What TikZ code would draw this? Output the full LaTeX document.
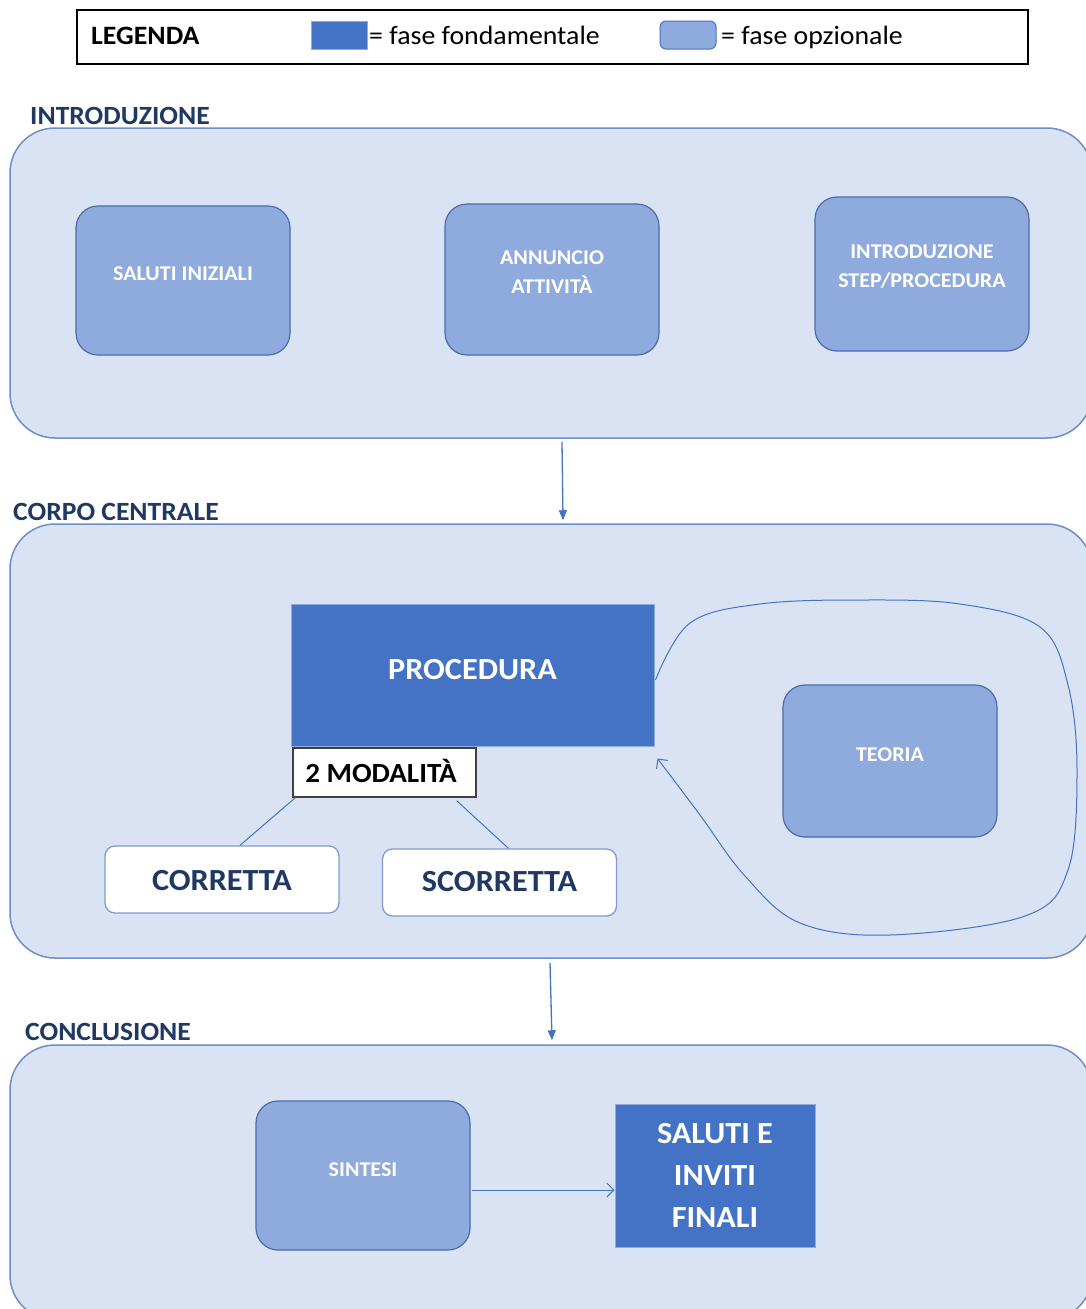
\documentclass[tikz,border=0pt]{standalone}
\usepackage{fontspec}
\setmainfont{Carlito}[FakeStretch=1.05]
\usetikzlibrary{arrows.meta,calc}
\definecolor{contfill}{HTML}{DAE3F3}
\definecolor{contdraw}{HTML}{6F8DC6}
\definecolor{optfill}{HTML}{8FAADC}
\definecolor{optdraw}{HTML}{4C6CAB}
\definecolor{fundfill}{HTML}{4472C4}
\definecolor{titlecol}{HTML}{1F3864}
\definecolor{linecol}{HTML}{4472C4}
\definecolor{whitedraw}{HTML}{7F9BD0}
\newcommand\fsz[1]{\fontsize{#1}{#1}\selectfont}
\begin{document}
\begin{tikzpicture}[x=1pt,y=-1pt,
  container/.style={draw=contdraw, fill=contfill, line width=1.5pt, rounded corners=45pt, inner sep=0pt},
  optbox/.style={draw=optdraw, fill=optfill, line width=1.2pt, rounded corners=22pt, inner sep=0pt, minimum width=214pt},
  fundbox/.style={draw=optfill, fill=fundfill, line width=1pt, inner sep=0pt},
  whitebox/.style={draw=whitedraw, fill=white, line width=1.3pt, rounded corners=10pt, inner sep=0pt, minimum width=234pt, minimum height=67pt},
  sectitle/.style={anchor=base west, text=titlecol, font=\fsz{26.3}\bfseries, inner sep=0pt},
  opttext/.style={anchor=base, text=white, font=\fsz{21}\bfseries, inner sep=0pt},
  fundtext/.style={anchor=base, text=white, font=\fsz{30.7}\bfseries, inner sep=0pt},
  wtext/.style={anchor=base, text=titlecol, font=\fsz{30.7}\bfseries, inner sep=0pt},
  legtext/.style={anchor=base west, font=\fsz{26.5}, inner sep=0pt},
  conn/.style={draw=linecol, line width=1.3pt},
]
\clip (0,0) rectangle (1086,1309);
\fill[white] (0,0) rectangle (1086,1309);

% Legend
\node[draw=black, line width=1.3pt, minimum width=951pt, minimum height=54pt, inner sep=0pt] (legend) at (552.5,37) {};
\node[legtext, font=\fsz{26.5}\bfseries] (legT) at (91,44) {LEGENDA};
\node[fill=fundfill, draw=optfill, line width=0.6pt, minimum width=56pt, minimum height=28pt, inner sep=0pt] (legF) at (339,35) {};
\node[legtext] (legFT) at (369,44) {= fase fondamentale};
\node[fill=optfill, draw=linecol, line width=1pt, rounded corners=6pt, minimum width=56pt, minimum height=28pt, inner sep=0pt] (legO) at (688,35) {};
\node[legtext] (legOT) at (721,44) {= fase opzionale};

% Introduzione
\node[sectitle] (tIntro) at (30,124) {INTRODUZIONE};
\node[container, minimum width=1082pt, minimum height=310pt] (intro) at (551,283) {};
\node[optbox, minimum height=149pt] (saluti) at (183,280.5) {};
\node[opttext] (salutiT) at (183,280) {SALUTI INIZIALI};
\node[optbox, minimum height=151pt] (annuncio) at (552,279.5) {};
\node[opttext] (annT1) at (552,264) {ANNUNCIO};
\node[opttext] (annT2) at (552,293) {ATTIVITÀ};
\node[optbox, minimum height=154pt] (introstep) at (922,274) {};
\node[opttext] (isT1) at (922,258) {INTRODUZIONE};
\node[opttext] (isT2) at (922,287) {STEP/PROCEDURA};

% Corpo centrale
\node[sectitle] (tCorpo) at (13,520) {CORPO CENTRALE};
\node[container, minimum width=1082pt, minimum height=434pt] (central) at (551,741) {};
\node[fundbox, minimum width=363pt, minimum height=142pt] (proc) at (472.5,675) {};
\node[fundtext] (procT) at (472.5,679) {PROCEDURA};
\node[draw=black!75, fill=white, line width=1.4pt, minimum width=183pt, minimum height=49pt, inner sep=0pt] (mod) at (384.5,772.5) {};
\node[anchor=base, font=\fsz{27.7}\bfseries, inner sep=0pt] (modT) at (381,782) {2 MODALITÀ};
\node[whitebox] (corr) at (222,879.5) {};
\node[wtext] (corrT) at (222,890) {CORRETTA};
\node[whitebox] (scorr) at (499.5,882.5) {};
\node[wtext] (scorrT) at (499.5,891) {SCORRETTA};
\node[optbox, minimum height=152pt] (teoria) at (890,761) {};
\node[opttext] (teoriaT) at (890,761) {TEORIA};

\draw[conn, line width=1pt] ($(mod.south west)+(3,0)$) -- ($(corr.north)+(18,0)$);
\draw[conn, line width=1pt] ($(mod.south east)+(-20,3)$) -- ($(scorr.north)+(9,0)$);

\draw[conn, line width=1pt, -{Straight Barb[length=7pt,width=14pt]}]
  plot[smooth, tension=0.6] coordinates {($(proc.east)+(1,5)$) (690,623) (760,604) (860,600) (960,604) (1040,627) (1068,685) (1077,770) (1068,870) (1025,916) (890,935) (800,923) (745,876) (700,815) ($(proc.south east)+(3,12)$)};

% Conclusione
\node[sectitle] (tConcl) at (25,1040) {CONCLUSIONE};
\node[container, minimum width=1082pt, minimum height=275pt] (concl) at (551,1182.5) {};
\node[optbox, minimum height=149pt] (sintesi) at (363,1175.5) {};
\node[opttext] (sintesiT) at (363,1176) {SINTESI};
\node[fundbox, minimum width=200pt, minimum height=143pt] (salfin) at (715,1175.5) {};
\node[fundtext] (sf1) at (715,1143) {SALUTI E};
\node[fundtext] (sf2) at (715,1185) {INVITI};
\node[fundtext] (sf3) at (715,1227) {FINALI};

\coordinate (sa) at ($(sintesi.east)+(1,14.5)$);
\draw[conn, line width=1pt, -{Straight Barb[length=7pt,width=14pt]}] (sa) -- (sa -| salfin.west);

% Arrows between sections
\draw[conn, -{Triangle[length=10pt,width=8pt]}] ($(intro.south)+(11,3)$) -- ($(central.north)+(12,-3)$);
\draw[conn, -{Triangle[length=10pt,width=8pt]}] ($(central.south)+(-1,4)$) -- ($(concl.north)+(1,-4)$);
\end{tikzpicture}
\end{document}
